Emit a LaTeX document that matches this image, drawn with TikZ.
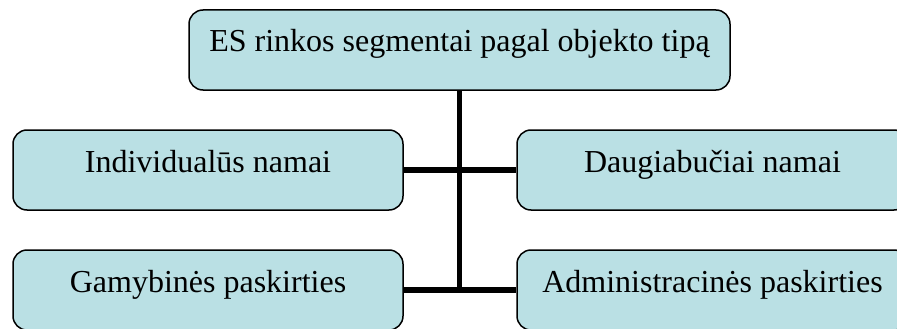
\documentclass[tikz,border=0pt]{standalone}
\usepackage{fontspec}
\setmainfont{Liberation Serif}
\definecolor{boxfill}{RGB}{186,224,228}
\begin{document}
\begin{tikzpicture}[x=1pt,y=-1pt,
  segbox/.style={draw=black, line width=1.5pt, fill=boxfill, rounded corners=14pt,
    minimum height=80pt, inner sep=0pt, text height=42pt, text depth=38pt,
    font=\fontsize{32}{38}\selectfont},
  link/.style={line width=5.5pt}]
\useasboundingbox (0,0) rectangle (897,329);
\clip (0,0) rectangle (897,329);
% segment boxes
\node[segbox, minimum width=541pt] (root) at (459.5,50) {ES rinkos segmentai pagal objekto tipą};
\node[segbox, minimum width=390pt] (ind) at (208,170) {Individualūs namai};
\node[segbox, minimum width=391pt] (dau) at (712.5,170) {Daugiabučiai namai};
\node[segbox, minimum width=390pt] (gam) at (208,290) {Gamybinės paskirties};
\node[segbox, minimum width=391pt] (adm) at (712.5,290) {Administracinės paskirties};
% connectors
\draw[link] (root.south) -- (root.south |- gam.east);
\draw[link] (ind.east) -- (dau.west);
\draw[link] (gam.east) -- (adm.west);
\end{tikzpicture}
\end{document}
